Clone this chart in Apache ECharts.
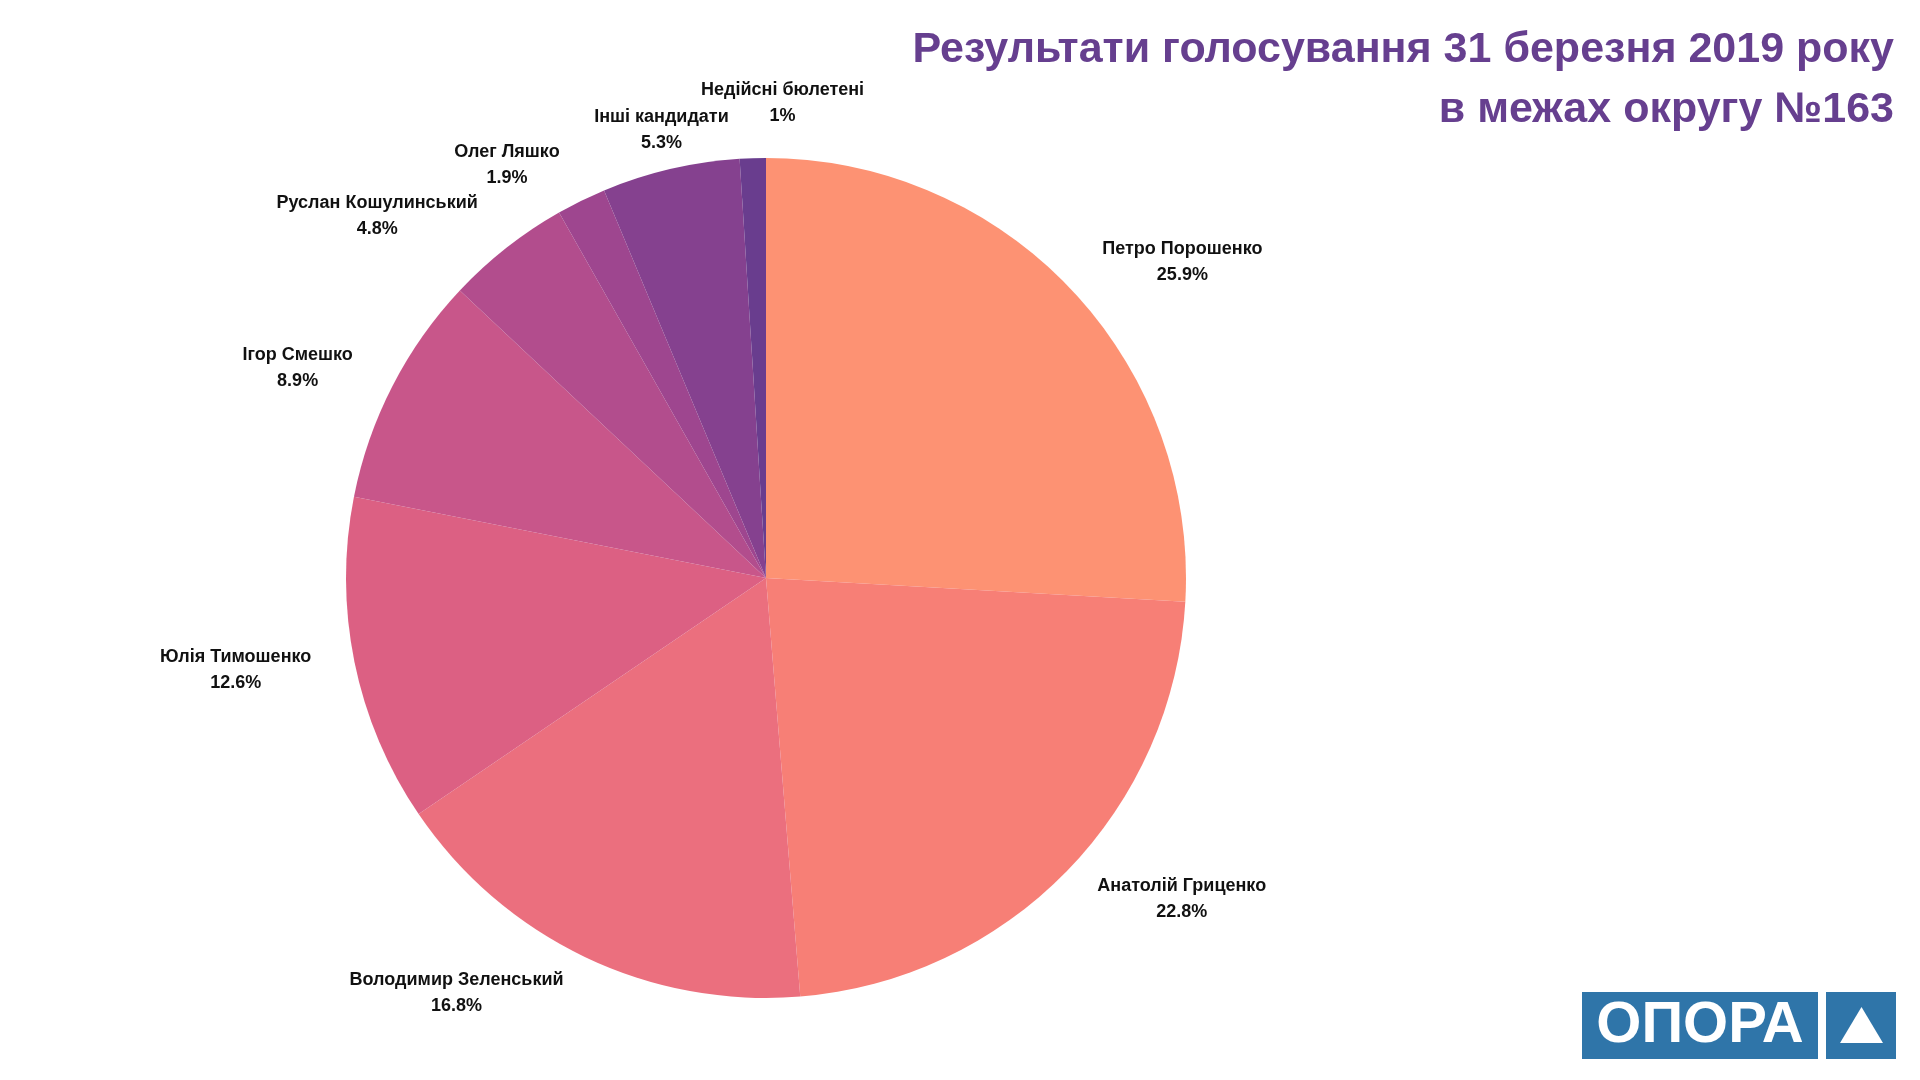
<!DOCTYPE html>
<html>
<head>
<meta charset="utf-8">
<style>
  html, body { margin: 0; padding: 0; background: #fff; }
  #echarts { width: 1920px; height: 1080px; }
</style>
<script src="https://cdn.jsdelivr.net/npm/echarts@6/dist/echarts.min.js"></script>
</head>
<body>
<div id="echarts"></div>
<script>
const names = ['Петро Порошенко', 'Анатолій Гриценко', 'Володимир Зеленський', 'Юлія Тимошенко',
    'Ігор Смешко', 'Руслан Кошулинський', 'Олег Ляшко', 'Інші кандидати', 'Недійсні бюлетені'];
const values = [25.9, 22.8, 16.8, 12.6, 8.9, 4.8, 1.9, 5.3, 1];
const colors = ['#fd9273', '#f77f76', '#eb6f7e', '#dc6083', '#c8568a', '#b24d8d', '#9e468f', '#85418f', '#693d8e'];
const titleText = 'Результати голосування 31 березня 2019 року\nв межах округу №163';

const chartDom = document.getElementById('echarts');
const myChart = echarts.init(chartDom);
let option;

// геометрія круга
const cx = 766, cy = 578, R = 420;
const labelR = 460;
const total = values.reduce((a, b) => a + b, 0);

let data = names.map((n, i) => ({
    name: n,
    value: values[i],
    itemStyle: { color: colors[i] }
}));

// кут середини сектора (від верху, за годинниковою)
function midAngle(i) {
    let before = 0;
    for (let k = 0; k < i; k++) before += values[k];
    return (before + values[i] / 2) / total * Math.PI * 2;
}

option = {
    backgroundColor: '#fff',
    animation: false,
    series: [
        {
            type: 'pie',
            center: [cx, cy],
            radius: R,
            startAngle: 90,
            clockwise: true,
            silent: true,
            avoidLabelOverlap: false,
            data: data,
            labelLine: { show: false },
            label: {
                show: true,
                position: 'outside',
                formatter: '{n|{b}}\n{n|{c}%}',
                rich: {
                    n: {
                        align: 'center',
                        fontFamily: 'Liberation Sans',
                        fontSize: 18,
                        fontWeight: 'bold',
                        color: '#111',
                        lineHeight: 26
                    }
                }
            },
            labelLayout: function (params) {
                const i = params.dataIndex;
                const a = midAngle(i);
                const s = Math.sin(a);
                let x = cx + labelR * s;
                let y = cy - labelR * Math.cos(a);
                let align = s > 0 ? 'left' : 'right';
                if (Math.abs(s) < 0.3) align = 'center';
                else x += s > 0 ? 2 : -4;
                // недійсні бюлетені трохи зсунуті, щоб не налізти на сусіда
                if (i === names.length - 1) { x += 31; y -= 15; }
                return { x: x, y: y, align: align, verticalAlign: 'middle' };
            }
        }
    ],
    graphic: [
        {
            type: 'text', x: 1894, y: 20,
            style: {
                text: titleText, fill: '#663f8f', align: 'right', verticalAlign: 'top',
                font: 'bold 43px "Liberation Sans"', lineHeight: 60
            }
        },
        { type: 'rect', shape: { x: 1582, y: 992, width: 236, height: 67 }, style: { fill: '#2f75a9' } },
        {
            type: 'text', x: 1700, y: 1026,
            style: {
                text: 'ОПОРА', fill: '#fff', align: 'center', verticalAlign: 'middle',
                font: 'bold 58px "Liberation Sans"'
            }
        },
        { type: 'rect', shape: { x: 1826, y: 992, width: 70, height: 67 }, style: { fill: '#2f75a9' } },
        {
            type: 'polygon',
            shape: { points: [[1840, 1043], [1883, 1043], [1861.5, 1007]] },
            style: { fill: '#fff' }
        }
    ]
};
option && myChart.setOption(option);
</script>
</body>
</html>
